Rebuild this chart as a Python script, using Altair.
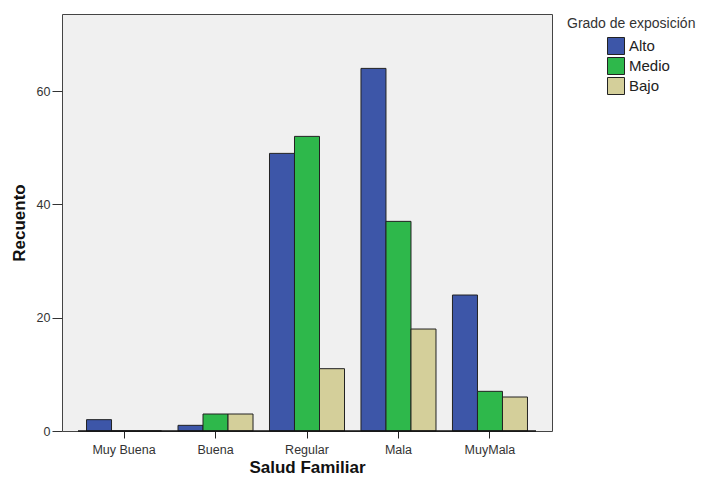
import altair as alt
import pandas as pd

categories = ["Muy Buena", "Buena", "Regular", "Mala", "MuyMala"]
groups = ["Alto", "Medio", "Bajo"]
alto = [2, 1, 49, 64, 24]
medio = [0, 3, 52, 37, 7]
bajo = [0, 3, 11, 18, 6]
colors = ["#3D56A8", "#2EB84B", "#D4CF9A"]
y_ticks = [0, 20, 40, 60]
legend_title = ["Grado de exposición"]

rows = []
for g, vals in zip(groups, [alto, medio, bajo]):
    for c, v in zip(categories, vals):
        rows.append({"Salud Familiar": c, "Grado de exposición": g, "Recuento": v})
df = pd.DataFrame(rows)

FONT = "Liberation Sans"

bars = alt.Chart(df).mark_bar(stroke="#222222", strokeWidth=1).encode(
    x=alt.X(
        "Salud Familiar:N",
        sort=categories,
        scale=alt.Scale(paddingInner=0.18, paddingOuter=0.268),
        axis=alt.Axis(
            title="Salud Familiar",
            labelAngle=0,
            domain=False,
            tickSize=7,
            tickColor="#222222",
            labelFontSize=12.5,
            labelColor="#333333",
            labelPadding=5,
            titleFontSize=17,
            titleFontWeight="bold",
            titleColor="#111111",
            titlePadding=4,
            grid=False,
        ),
    ),
    xOffset=alt.XOffset("Grado de exposición:N", sort=groups, scale=alt.Scale(paddingInner=0, paddingOuter=0)),
    y=alt.Y(
        "Recuento:Q",
        scale=alt.Scale(domain=[0, 73.6], nice=False),
        axis=alt.Axis(
            title="Recuento",
            values=y_ticks,
            domain=False,
            tickSize=10,
            tickColor="#333333",
            labelFontSize=12.5,
            labelColor="#333333",
            labelPadding=2,
            titleFontSize=17,
            titleFontWeight="bold",
            titleColor="#111111",
            titlePadding=8,
            grid=False,
        ),
    ),
    color=alt.Color(
        "Grado de exposición:N",
        sort=groups,
        scale=alt.Scale(domain=groups, range=colors),
        legend=alt.Legend(
            title=None,
            orient="none",
            legendX=545,
            legendY=23,
            labelFontSize=15,
            labelColor="#222222",
            symbolType="square",
            symbolSize=289,
            symbolStrokeColor="#222222",
            symbolStrokeWidth=1,
            symbolOpacity=1,
            rowPadding=-2,
            labelOffset=4,
        ),
    ),
)

title_text = alt.Chart(pd.DataFrame({"t": legend_title})).mark_text(
    align="left", baseline="top", fontSize=14, color="#333333", font=FONT
).encode(
    text="t:N",
    x=alt.value(505),
    y=alt.value(3),
)

baseline = alt.Chart(pd.DataFrame({"y": [0]})).mark_rule(color="#111111", strokeWidth=1.5).encode(
    y="y:Q",
    x=alt.value(16),
    x2=alt.value(474),
)

chart = alt.layer(bars, baseline, title_text).properties(
    width=490,
    height=417,
    autosize=alt.AutoSizeParams(type="none"),
    padding={"left": 54, "top": 6, "right": 150, "bottom": 46},
    view=alt.ViewBackground(fill="#F0F0F0", stroke="#444444", strokeWidth=1, strokeOpacity=1),
).configure_view(
    fill="#F0F0F0",
    stroke="#444444",
    strokeWidth=1,
).configure(font=FONT)

chart.save("out.html", embed_options={"renderer": "svg", "actions": False})
